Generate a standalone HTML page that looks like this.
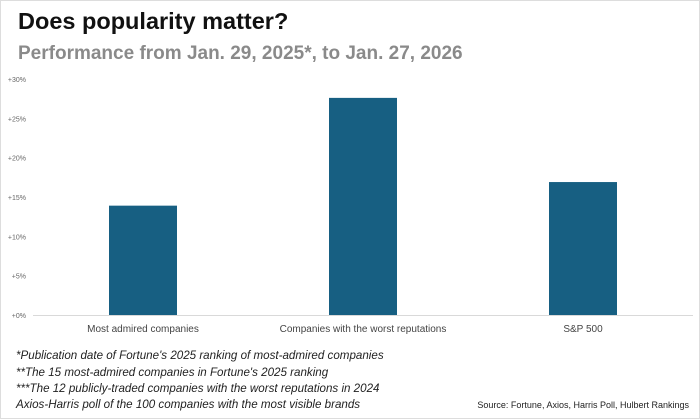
<!DOCTYPE html>
<html><head><meta charset="utf-8"><style>
body{margin:0;background:#fff;}
#wrap{position:relative;width:700px;height:419px;overflow:hidden;font-family:"Liberation Sans",sans-serif;box-sizing:border-box;border:1px solid #ddd;}
.t{position:absolute;white-space:nowrap;}
</style></head><body>
<div id="wrap">
<div class="t" style="left:17px;top:7px;font-size:23.5px;font-weight:bold;color:#111;">Does popularity matter?</div>
<div class="t" style="left:17px;top:42px;font-size:19px;font-weight:bold;color:#8a8a8a;">Performance from Jan. 29, 2025*, to Jan. 27, 2026</div>
<svg id="chart" width="700" height="340" style="position:absolute;left:0;top:0"></svg>
<div class="t" style="left:15px;top:348px;font-size:11.6px;font-style:italic;color:#222;">*Publication date of Fortune's 2025 ranking of most-admired companies</div>
<div class="t" style="left:15px;top:365px;font-size:11.6px;font-style:italic;color:#222;">**The 15 most-admired companies in Fortune's 2025 ranking</div>
<div class="t" style="left:15px;top:381px;font-size:11.6px;font-style:italic;color:#222;">***The 12 publicly-traded companies with the worst reputations in 2024</div>
<div class="t" style="left:15px;top:397px;font-size:11.6px;font-style:italic;color:#222;">Axios-Harris poll of the 100 companies with the most visible brands</div>
<div class="t" style="right:10px;top:399px;font-size:9px;color:#222;">Source: Fortune, Axios, Harris Poll, Hulbert Rankings</div>
</div>
<script>
const categories=["Most admired companies","Companies with the worst reputations","S&P 500"];
const values=[13.9,27.6,16.9];
const ticks=[0,5,10,15,20,25,30];
const tickLabels=["+0%","+5%","+10%","+15%","+20%","+25%","+30%"];
const svg=document.getElementById('chart');
const NS='http://www.w3.org/2000/svg';
const x0=32,x1=692,y0=314,y1=78,vmax=30;
const y=v=>y0-(v/vmax)*(y0-y1);
const band=(x1-x0)/categories.length;
const xc=i=>x0+band*(i+0.5);
function mk(t,a){const e=document.createElementNS(NS,t);for(const k in a)e.setAttribute(k,a[k]);svg.appendChild(e);return e;}
ticks.forEach((v,i)=>{
 const t=mk('text',{x:25,y:y(v)+3,'text-anchor':'end','font-size':7,fill:'#666','font-family':'Liberation Sans, sans-serif'});
 t.textContent=tickLabels[i];
 
 
});
const ax=mk('line',{x1:x0,x2:x1,y1:y0+0.5,y2:y0+0.5,stroke:'#d9d9d9','stroke-width':1});


values.forEach((v,i)=>{
 const w=68;
 const r=mk('rect',{x:xc(i)-w/2,y:y(v),width:w,height:y0-y(v),fill:'#175f82'});
 
 
 const t=mk('text',{x:xc(i),y:331,'text-anchor':'middle','font-size':10,fill:'#444','font-family':'Liberation Sans, sans-serif'});
 t.textContent=categories[i];
 
 
});
</script>
</body></html>
